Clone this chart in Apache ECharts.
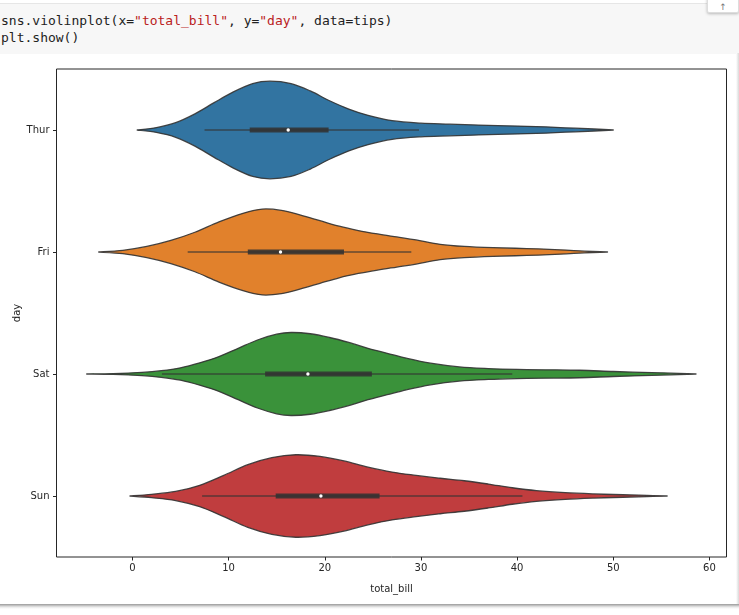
<!DOCTYPE html>
<html>
<head>
<meta charset="utf-8">
<script src="https://cdn.jsdelivr.net/npm/echarts@6/dist/echarts.min.js"></script>
<style>
html,body{margin:0;padding:0;background:#fff;width:739px;height:615px;overflow:hidden;}
#cell{position:absolute;left:0;top:3px;width:739px;height:50px;background:#f7f7f7;border-top:1px solid #e6e6e6;}
#code{position:absolute;left:1px;top:12px;font-family:"DejaVu Sans Mono",monospace;font-size:13px;line-height:17px;color:#222;white-space:pre;}
#code .s{color:#ba2121;}
#btn{position:absolute;left:707px;top:-4px;width:30px;height:15px;background:#fff;border:1px solid #ddd;border-radius:2px;box-shadow:0 1px 3px rgba(0,0,0,0.25);font-family:"DejaVu Sans",sans-serif;font-size:9px;color:#777;text-align:center;line-height:20px;}
#shadow{position:absolute;left:0;top:604px;width:739px;height:5px;background:linear-gradient(#9a9a9a,#e8e8e8 60%,#fff);}
#rside{position:absolute;left:736px;top:53px;width:3px;height:552px;background:linear-gradient(90deg,#fff,#d8d8d8);}
#chart{position:absolute;left:0;top:0;width:739px;height:615px;}
</style>
</head>
<body>
<div id="cell"></div>
<div id="code">sns.violinplot(x=<span class="s">"total_bill"</span>, y=<span class="s">"day"</span>, data=tips)
plt.show()</div>
<div id="btn">&#8593;</div>
<div id="rside"></div>
<div id="shadow"></div>
<div id="chart"></div>
<script>
// ---- data ----
const days = ['Thur', 'Fri', 'Sat', 'Sun'];
const xTicks = [0, 10, 20, 30, 40, 50, 60];

// density profiles (x in total_bill, relative density 0..1)
const thurX = [0.5, 2.5, 4.5, 6.5, 8.5, 10.5, 12.5, 14.3, 16.5, 18.5, 20.5, 22.5, 24.5, 27, 30, 33, 36, 39, 42, 45, 48, 50];
const thurD = [0, 0.05, 0.15, 0.33, 0.56, 0.78, 0.95, 1.0, 0.95, 0.8, 0.6, 0.43, 0.3, 0.19, 0.14, 0.12, 0.1, 0.085, 0.07, 0.045, 0.02, 0];
const friX = [-3.5, -1, 1.5, 4, 6.5, 9, 11.5, 13.5, 15.5, 17.5, 19.5, 21.5, 23.5, 25.5, 27.5, 29.5, 32, 34.5, 37.5, 41, 44.5, 47, 49.4];
const friD = [0, 0.04, 0.13, 0.27, 0.46, 0.7, 0.9, 1.0, 0.97, 0.86, 0.73, 0.6, 0.5, 0.42, 0.35, 0.28, 0.18, 0.13, 0.1, 0.08, 0.05, 0.02, 0];
const satX = [-4.75, -2, 1, 3, 5, 7, 9, 11, 13, 15, 16.5, 18.5, 20.5, 22.5, 24.5, 26.5, 28.5, 31, 34, 37, 40, 43, 46.5, 50, 53, 56, 58.6];
const satD = [0, 0.01, 0.04, 0.08, 0.15, 0.27, 0.42, 0.62, 0.82, 0.96, 1.0, 0.97, 0.88, 0.76, 0.62, 0.5, 0.38, 0.26, 0.17, 0.13, 0.11, 0.1, 0.09, 0.06, 0.04, 0.02, 0];
const sunX = [-0.25, 2, 4.5, 7, 9.5, 12, 14.5, 17, 19.5, 22, 24.5, 27, 29.5, 32, 34.5, 37, 39.5, 42, 45, 48, 51, 53.5, 55.6];
const sunD = [0, 0.04, 0.11, 0.26, 0.5, 0.76, 0.93, 1.0, 0.96, 0.85, 0.7, 0.58, 0.5, 0.43, 0.37, 0.29, 0.2, 0.13, 0.08, 0.05, 0.03, 0.015, 0];
// peak half-width of each violin, in category-band units
const peakHalfWidth = [0.40, 0.352, 0.34, 0.338];

// inner box statistics
const whiskerLow  = [7.5, 5.75, 3.07, 7.25];
const q1          = [12.2, 12.0, 13.8, 14.9];
const median      = [16.2, 15.4, 18.25, 19.6];
const q3          = [20.4, 22.0, 24.9, 25.7];
const whiskerHigh = [29.8, 29.0, 39.5, 40.55];

const fillColors = ['#3274a1', '#e1812c', '#3a923a', '#c03d3e'];

// ---- chart ----
const profX = [thurX, friX, satX, sunX];
const profD = [thurD, friD, satD, sunD];

function f2(v) { return v.toFixed(2); }

function smoothPath(pts) {
  let d = '';
  for (let i = 0; i < pts.length - 1; i++) {
    const p0 = i > 0 ? pts[i - 1] : pts[i];
    const p1 = pts[i];
    const p2 = pts[i + 1];
    const p3 = i + 2 < pts.length ? pts[i + 2] : pts[i + 1];
    const c1 = [p1[0] + (p2[0] - p0[0]) / 6, p1[1] + (p2[1] - p0[1]) / 6];
    const c2 = [p2[0] - (p3[0] - p1[0]) / 6, p2[1] - (p3[1] - p1[1]) / 6];
    d += ' C ' + f2(c1[0]) + ' ' + f2(c1[1]) + ' ' + f2(c2[0]) + ' ' + f2(c2[1]) + ' ' + f2(p2[0]) + ' ' + f2(p2[1]);
  }
  return d;
}

function renderItem(params, api) {
  const i = params.dataIndex;
  const band = api.size([0, 1])[1];
  const xs = profX[i], ds = profD[i];
  const upper = [], lower = [];
  for (let k = 0; k < xs.length; k++) {
    const c = api.coord([xs[k], i]);
    const hw = ds[k] * peakHalfWidth[i] * band;
    upper.push([c[0], c[1] - hw]);
    lower.push([c[0], c[1] + hw]);
  }
  lower.reverse();
  let d = 'M ' + f2(upper[0][0]) + ' ' + f2(upper[0][1]) + smoothPath(upper);
  d += smoothPath(lower) + ' Z';

  const cy = api.coord([0, i])[1];
  const wl = api.coord([whiskerLow[i], i])[0];
  const wh = api.coord([whiskerHigh[i], i])[0];
  const b1 = api.coord([q1[i], i])[0];
  const b3 = api.coord([q3[i], i])[0];
  const m = api.coord([median[i], i])[0];

  return {
    type: 'group',
    children: [
      { type: 'path', shape: { pathData: d },
        style: { fill: fillColors[i], stroke: 'rgba(50,50,50,0.9)', lineWidth: 1.3, lineJoin: 'round', lineCap: 'round' } },
      { type: 'line', shape: { x1: wl, y1: cy, x2: wh, y2: cy },
        style: { stroke: 'rgba(50,50,50,0.72)', lineWidth: 1.6 } },
      { type: 'rect', shape: { x: b1, y: cy - 2.6, width: b3 - b1, height: 5.2 },
        style: { fill: 'rgba(50,50,50,0.88)' } },
      { type: 'circle', shape: { cx: m, cy: cy, r: 1.7 },
        style: { fill: '#ffffff' } }
    ]
  };
}

const chart = echarts.init(document.getElementById('chart'), null, { renderer: 'canvas' });
const axisFont = { fontFamily: 'DejaVu Sans', fontSize: 10, color: '#262626' };
chart.setOption({
  backgroundColor: 'transparent',
  animation: false,
  grid: { left: 56.5, top: 69, width: 670, height: 488, show: true, borderColor: '#262626', borderWidth: 1,
          backgroundColor: 'transparent', containLabel: false, outerBoundsMode: 'none' },
  xAxis: {
    type: 'value', min: -7.89, max: 61.77, position: 'bottom',
    name: 'total_bill', nameLocation: 'middle', nameGap: 27, nameMoveOverlap: false,
    nameTextStyle: axisFont,
    axisLine: { show: false, onZero: false },
    axisTick: { show: true, length: 3.5, lineStyle: { color: '#262626' }, customValues: xTicks },
    axisLabel: Object.assign({ margin: 6, customValues: xTicks }, axisFont),
    splitLine: { show: false }
  },
  yAxis: {
    type: 'category', data: days, inverse: true, position: 'left',
    name: 'day', nameLocation: 'middle', nameGap: 34, nameMoveOverlap: false,
    nameTextStyle: axisFont,
    axisLine: { show: false, onZero: false },
    axisTick: { show: true, length: 3.5, alignWithLabel: true, lineStyle: { color: '#262626' } },
    axisLabel: Object.assign({ margin: 7 }, axisFont),
    splitLine: { show: false }
  },
  series: [{
    type: 'custom',
    renderItem: renderItem,
    encode: { x: 1, y: 0 },
    data: days.map((d, i) => [i, median[i]]),
    clip: true
  }]
});
</script>
</body>
</html>
